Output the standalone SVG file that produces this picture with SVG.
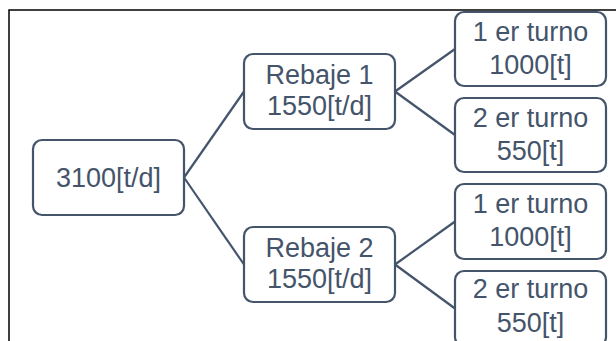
<svg xmlns="http://www.w3.org/2000/svg" width="616" height="341" viewBox="0 0 616 341">
<style>
.box{fill:#ffffff;stroke:#44546A;stroke-width:2.2}
.lbl{font-family:"Liberation Sans",Arial,sans-serif;font-size:27px;fill:#44546A;text-anchor:middle}
.con{stroke:#44546A;stroke-width:2.2;fill:none}
</style>
<rect x="0" y="0" width="616" height="341" fill="#ffffff"/>
<path d="M9,341 V10 H616" fill="none" stroke="#000000" stroke-width="1.5"/>
<g id="connectors">
<line class="con" x1="184" y1="177.5" x2="244" y2="91.5"/>
<line class="con" x1="184" y1="177.5" x2="244" y2="264.5"/>
<line class="con" x1="395" y1="91.5" x2="455" y2="49"/>
<line class="con" x1="395" y1="91.5" x2="455" y2="135"/>
<line class="con" x1="395" y1="264.5" x2="455" y2="221.5"/>
<line class="con" x1="395" y1="264.5" x2="455" y2="308.5"/>
</g>
<g id="n3100">
<rect class="box" x="33" y="140" width="151" height="75" rx="9"/>
<text class="lbl" x="108.5" y="187">3100[t/d]</text>
</g>
<g id="rebaje1">
<rect class="box" x="244" y="54" width="151" height="75" rx="9"/>
<text class="lbl" x="319.5" y="84">Rebaje 1</text>
<text class="lbl" x="319.5" y="115">1550[t/d]</text>
</g>
<g id="rebaje2">
<rect class="box" x="244" y="227" width="151" height="75" rx="9"/>
<text class="lbl" x="319.5" y="257">Rebaje 2</text>
<text class="lbl" x="319.5" y="288">1550[t/d]</text>
</g>
<g id="t1">
<rect class="box" x="455" y="12" width="151" height="74" rx="9"/>
<text class="lbl" x="530.5" y="41">1 er turno</text>
<text class="lbl" x="530.5" y="74">1000[t]</text>
</g>
<g id="t2">
<rect class="box" x="455" y="98" width="151" height="74" rx="9"/>
<text class="lbl" x="530.5" y="127">2 er turno</text>
<text class="lbl" x="530.5" y="160">550[t]</text>
</g>
<g id="t3">
<rect class="box" x="455" y="184" width="151" height="75" rx="9"/>
<text class="lbl" x="530.5" y="213">1 er turno</text>
<text class="lbl" x="530.5" y="246">1000[t]</text>
</g>
<g id="t4">
<rect class="box" x="455" y="271" width="151" height="75" rx="9"/>
<text class="lbl" x="530.5" y="298">2 er turno</text>
<text class="lbl" x="530.5" y="332">550[t]</text>
</g>
</svg>
